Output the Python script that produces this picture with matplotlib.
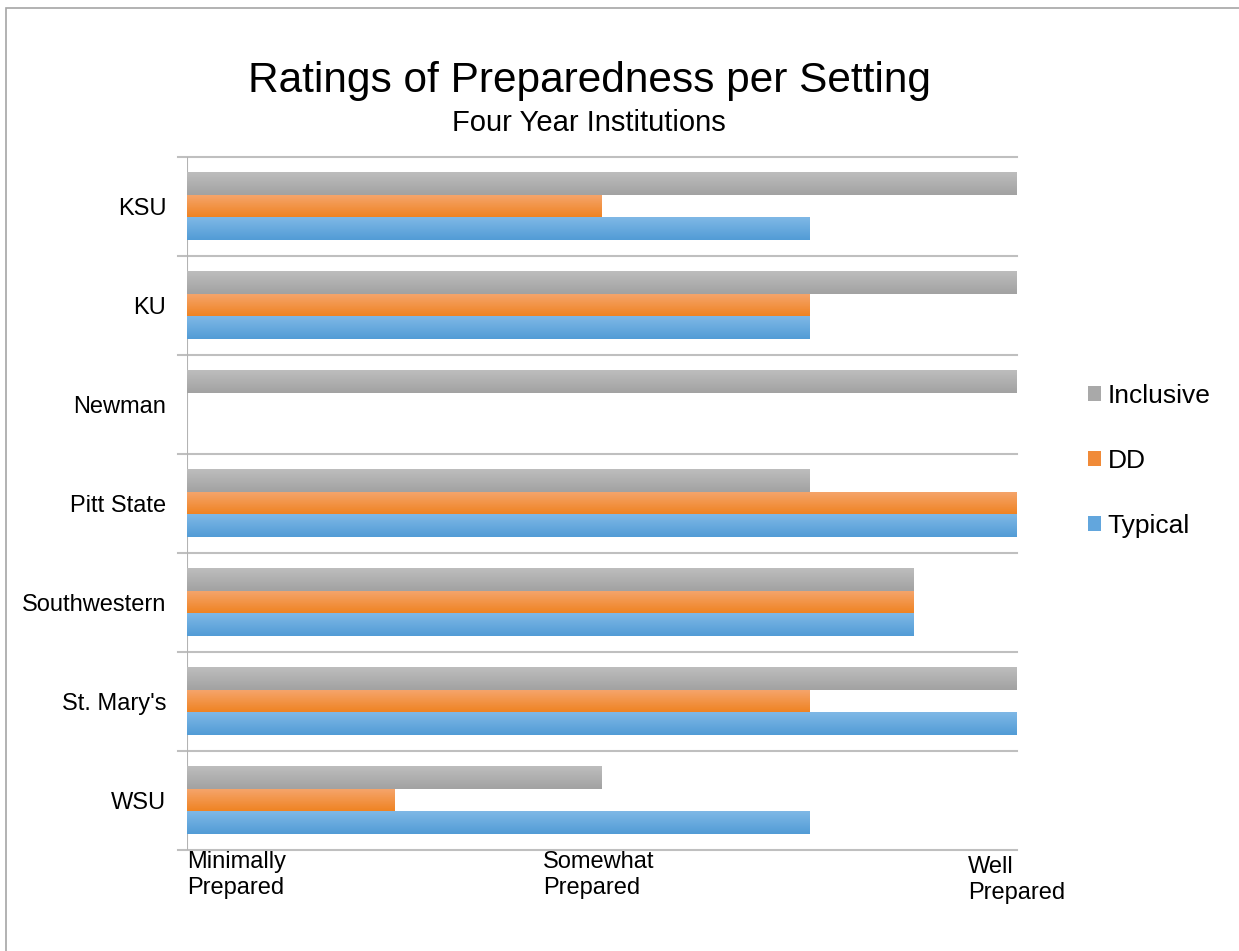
import numpy as np
import matplotlib
matplotlib.use("Agg")
import matplotlib.pyplot as plt
from matplotlib.patches import Patch, Rectangle
from matplotlib.colors import LinearSegmentedColormap

plt.rcParams['font.family'] = ['Liberation Sans', 'DejaVu Sans']

# data (1 = Minimally, 2 = Somewhat, 3 = Well Prepared)
schools = ["KSU", "KU", "Newman", "Pitt State", "Southwestern", "St. Mary's", "WSU"]
inclusive = [3, 3, 3, 2.5, 2.75, 3, 2]
dd = [2, 2.5, np.nan, 3, 2.75, 2.5, 1.5]
typical = [2.5, 2.5, np.nan, 3, 2.75, 3, 2.5]
series = ["Inclusive", "DD", "Typical"]
tick_labels = ["Minimally\nPrepared", "Somewhat\nPrepared", "Well\nPrepared"]

# gradient colours (top, bottom) and legend colour
grad = {
    "Inclusive": ("#bdbdbd", "#a2a2a2", "#a9a9a9"),
    "DD": ("#f5a46a", "#ef8220", "#f08a38"),
    "Typical": ("#7fb8e6", "#529cd6", "#62a6dd"),
}

fig = plt.figure(figsize=(12.39, 9.51), dpi=100)
ax = fig.add_axes([187 / 1239, 1 - 850 / 951, 830 / 1239, 693 / 951])

# frame around the chart area (only top/left visible in the image)
fig.patches.append(Rectangle((6 / 1239, -0.1), 1.2, 1 - 8 / 951 + 0.1,
                             transform=fig.transFigure, fill=False,
                             edgecolor="#a6a6a6", linewidth=1.2))

y = np.arange(len(schools))
h = 0.225
grad_img = np.linspace(0, 1, 32).reshape(-1, 1)
for k, (name, vals) in enumerate(zip(series, [inclusive, dd, typical])):
    top, bot, _ = grad[name]
    cmap = LinearSegmentedColormap.from_list(name, [bot, top])
    for yi, v in zip(y, vals):
        if np.isnan(v):
            continue
        yc = yi + (k - 1) * h
        ax.imshow(grad_img, cmap=cmap, aspect="auto", interpolation="bilinear",
                  extent=(1, v, yc - h / 2, yc + h / 2), zorder=2, origin="upper")

ax.set_xlim(1, 3)
ax.set_ylim(len(schools) - 0.5, -0.5)

# category boundary lines
for b in np.arange(-0.5, len(schools), 1.0):
    ax.axhline(b, xmin=-9 / 830, xmax=1, color="#bfbfbf", linewidth=1.5,
               clip_on=False, zorder=1)
ax.axvline(1, color="#b3b3b3", linewidth=1.5, zorder=1)

for s in ax.spines.values():
    s.set_visible(False)
ax.set_xticks([])
ax.set_yticks(y)
ax.set_yticklabels(schools, fontsize=17)
ax.tick_params(axis="y", length=0, pad=15)

for xf, lab, dy in zip([0.0, (543 - 187) / 830, (968 - 187) / 830],
                       tick_labels, [0, 0, -5]):
    ax.text(xf, -1 / 693 + dy / 693, lab, transform=ax.transAxes, ha="left",
            va="top", fontsize=17, linespacing=1.25)

fig.text(589 / 1239, 1 - 81 / 951, "Ratings of Preparedness per Setting",
         ha="center", va="center", fontsize=30.5)
fig.text(589 / 1239, 1 - 123 / 951, "Four Year Institutions",
         ha="center", va="center", fontsize=21)

handles = [Patch(facecolor=grad[n][2], edgecolor="none") for n in series]
fig.legend(handles, series, loc="center left",
           bbox_to_anchor=(1088 / 1239, 1 - 461 / 951), frameon=False,
           fontsize=19, handlelength=0.5, handleheight=0.5, handletextpad=0.25,
           labelspacing=1.55, borderpad=0, borderaxespad=0)

fig.savefig("out.png", dpi=100)
